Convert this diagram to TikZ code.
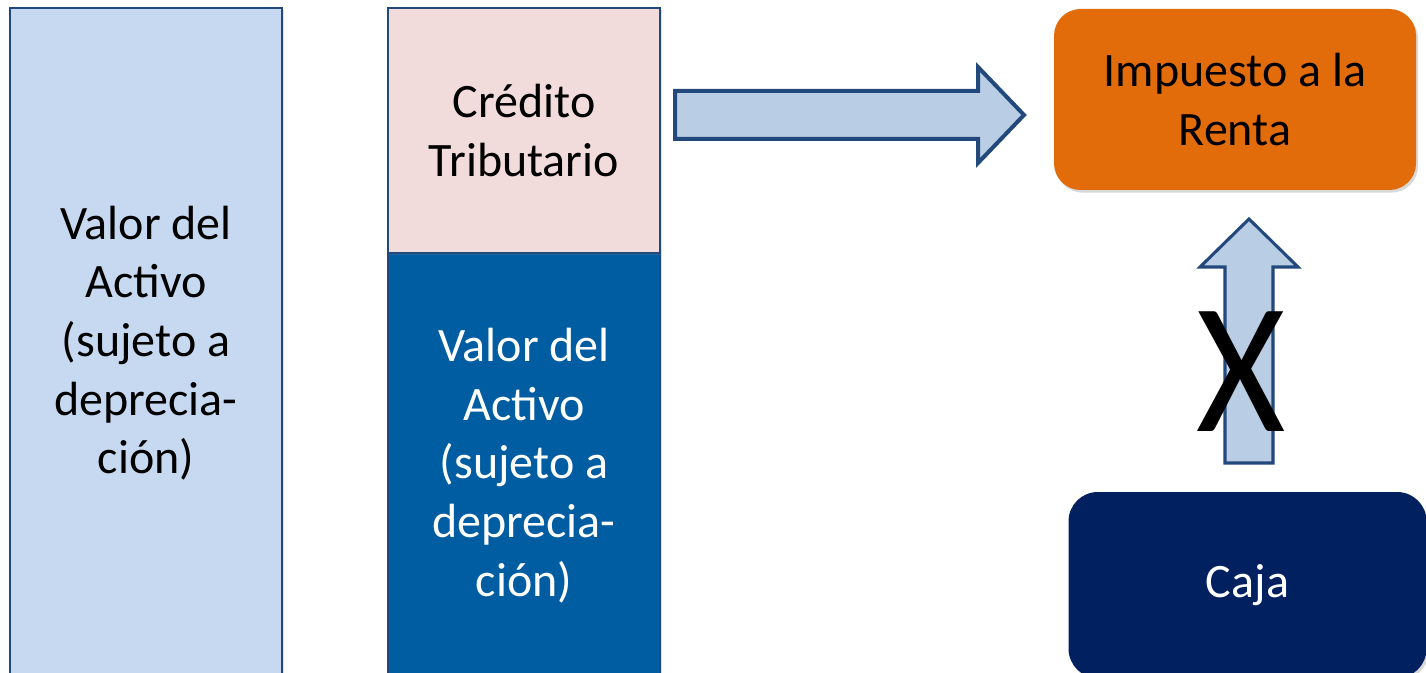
\documentclass[tikz,border=0pt]{standalone}
\usepackage{fontspec}
\setmainfont{Carlito}
\usetikzlibrary{shadows}
\definecolor{edgeblue}{HTML}{23497C}
\definecolor{paleblue}{HTML}{C6D9F0}
\definecolor{palepink}{HTML}{F2DCDB}
\definecolor{midblue}{HTML}{005DA2}
\definecolor{arrowfill}{HTML}{B9CDE5}
\definecolor{orangebox}{HTML}{E36C0A}
\definecolor{navybox}{HTML}{002060}
\tikzset{
  bigtext/.style={font=\fontsize{36}{44}\selectfont, align=center},
  colbox/.style={draw=edgeblue, rectangle, inner sep=0pt, bigtext,
     drop shadow={shadow xshift=1.5pt, shadow yshift=-1.5pt, opacity=0.25}},
  roundbox/.style={rectangle, rounded corners=20pt, inner sep=0pt, bigtext,
     drop shadow={shadow xshift=1.5pt, shadow yshift=-2pt, opacity=0.3}},
  blockarrow/.style={draw=edgeblue, fill=arrowfill, line join=miter},
}
\begin{document}
\begin{tikzpicture}[x=0.75pt,y=-0.75pt]
\useasboundingbox (0,0) rectangle (1426,673);
\clip (0,0) rectangle (1426,673);
\fill[white] (0,0) rectangle (1426,673);
% left column
\node[colbox, fill=paleblue, line width=1.8pt, minimum width=272*0.75pt, minimum height=670*0.75pt]
  (left) at (146,343) {Valor del\\Activo\\(sujeto a\\deprecia-\\ción)};
% middle column
\node[colbox, fill=midblue, line width=0.8pt, text=white, minimum width=272*0.75pt, minimum height=425*0.75pt]
  (midlow) at (524,465.5) {Valor del\\Activo\\(sujeto a\\deprecia-\\ción)};
\node[colbox, fill=palepink, line width=0.8pt, minimum width=272*0.75pt, minimum height=245*0.75pt]
  (credito) at (524,130.5) {Crédito\\Tributario};
% right boxes
\node[roundbox, fill=orangebox, minimum width=362*0.75pt, minimum height=181*0.75pt]
  (impuesto) at (1235,99.5) {Impuesto a la\\Renta};
\node[roundbox, fill=navybox, text=white, rounded corners=22pt, minimum width=358*0.75pt, minimum height=186*0.75pt]
  (caja) at (1247.5,585) {Caja};
% block arrow to the right
\draw[blockarrow, line width=3pt]
  (675,91) -- (978,91) -- (978,67) -- (1024,115) -- (978,163) -- (978,139) -- (675,139) -- cycle;
% block arrow upwards
\draw[blockarrow, line width=2.3pt]
  (1225,463) -- (1225,267) -- (1200,267) -- (1249,219) -- (1298,267) -- (1273,267) -- (1273,463) -- cycle;
% cross
\node[font=\fontsize{140}{140}\selectfont, inner sep=0pt, xscale=0.92] (cross) at (1241,372) {X};
\end{tikzpicture}
\end{document}
